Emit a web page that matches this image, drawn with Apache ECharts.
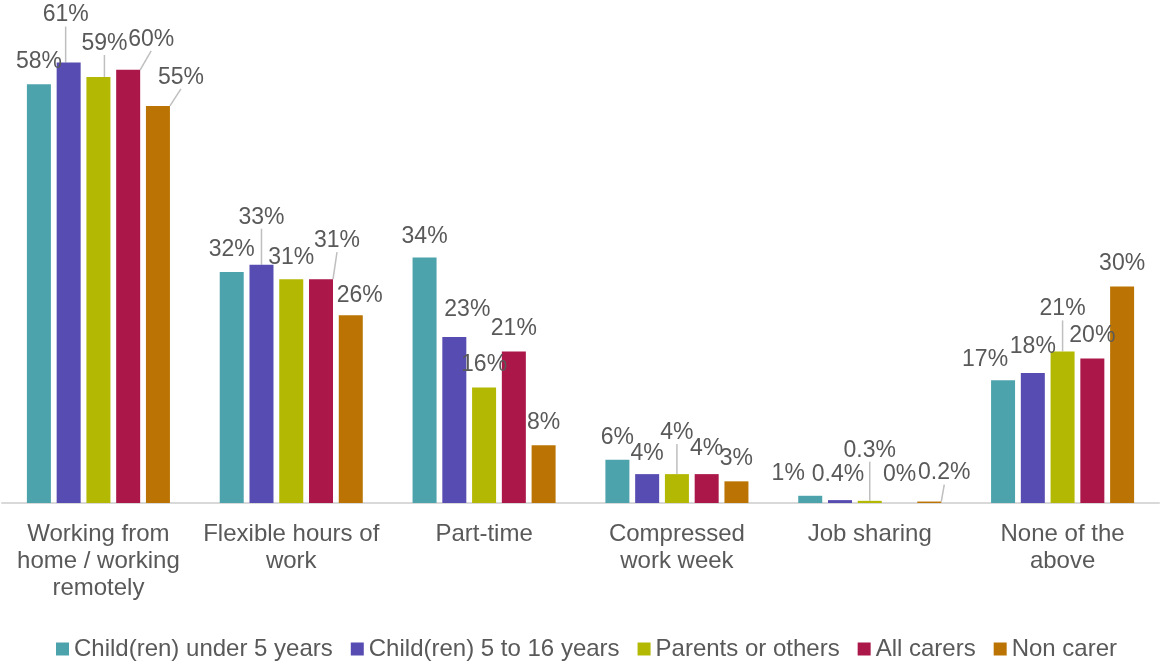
<!DOCTYPE html>
<html>
<head>
<meta charset="utf-8">
<script src="https://cdn.jsdelivr.net/npm/echarts@6/dist/echarts.min.js"></script>
<style>
  html, body { margin: 0; padding: 0; background: #ffffff; }
  #chart { width: 1161px; height: 663px; }
</style>
</head>
<body>
<div id="chart"></div>
<script>
// Categories (flexible working arrangements) and one value array per group, in percent
const categories = [
  'Working from\nhome / working\nremotely',
  'Flexible hours of\nwork',
  'Part-time',
  'Compressed\nwork week',
  'Job sharing',
  'None of the\nabove'
];
const seriesNames = ['Child(ren) under 5 years', 'Child(ren) 5 to 16 years', 'Parents or others', 'All carers', 'Non carer'];
const childUnder5     = [58, 32, 34, 6, 1,   17];
const child5to16      = [61, 33, 23, 4, 0.4, 18];
const parentsOrOthers = [59, 31, 16, 4, 0.3, 21];
const allCarers       = [60, 31, 21, 4, 0,   20];
const nonCarer        = [55, 26,  8, 3, 0.2, 30];

const seriesValues = [childUnder5, child5to16, parentsOrOthers, allCarers, nonCarer];
const colors = ['#4DA3AC', '#574CB1', '#B3B802', '#AB1749', '#BB7404'];

// Label nudges so crowded labels don't collide: [dx, dy, show leader line]
const labelShift = [
  [[0, 0], [0, 0], [0, 2], [0, 0], [-22, 0], [-18, 2]],
  [[-3, -25, 1], [0, -25, 1], [13, -5], [0, 2], [-2, -3], [0, -4]],
  [[6, -11, 1], [0, 1], [0, 0], [0, -19, 1], [0, -28, 1], [0, -20, 1]],
  [[23, -8, 1], [16, -16, 1], [0, 0], [0, -3], [0, -6], [0, 0]],
  [[23, -6, 1], [9, 3], [0, 0], [0, 0], [15, -6, 1], [0, 0]]
];

const textColor = '#595959';
const fontFamily = '"Liberation Sans", Arial, Helvetica, sans-serif';

const chart = echarts.init(document.getElementById('chart'), null, { renderer: 'canvas' });

const series = seriesValues.map((vals, s) => ({
  name: seriesNames[s],
  type: 'bar',
  barWidth: 24,
  barGap: '24%',
  itemStyle: { color: colors[s] },
  label: {
    show: true,
    position: 'top',
    distance: 11,
    color: textColor,
    fontFamily: fontFamily,
    fontSize: 23,
    formatter: p => p.value + '%'
  },
  labelLine: {
    show: false,
    lineStyle: { color: '#BFBFBF', width: 1.5 }
  },
  data: vals.map((v, i) => ({
    value: v,
    labelLine: { show: !!labelShift[s][i][2] }
  }))
}));

chart.setOption({
  animation: false,
  color: colors,
  grid: { left: 2, right: 2, top: 33.7, bottom: 160 },
  legend: {
    left: 56,
    top: 637,
    padding: 0,
    icon: 'rect',
    itemWidth: 13,
    itemHeight: 13,
    itemGap: 18,
    textStyle: { color: textColor, fontFamily: fontFamily, fontSize: 24 },
    data: seriesNames
  },
  xAxis: {
    type: 'category',
    data: categories,
    axisLine: { show: true, lineStyle: { color: '#D9D9D9', width: 2 } },
    axisTick: { show: false },
    axisLabel: {
      interval: 0,
      margin: 18,
      color: textColor,
      fontFamily: fontFamily,
      fontSize: 24,
      lineHeight: 27
    }
  },
  yAxis: {
    type: 'value',
    min: 0,
    max: 65,
    show: false,
    splitLine: { show: false }
  },
  labelLayout: function (params) {
    const sh = labelShift[params.seriesIndex][params.dataIndex];
    return { dx: sh[0], dy: sh[1] };
  },
  series: series
});
</script>
</body>
</html>
